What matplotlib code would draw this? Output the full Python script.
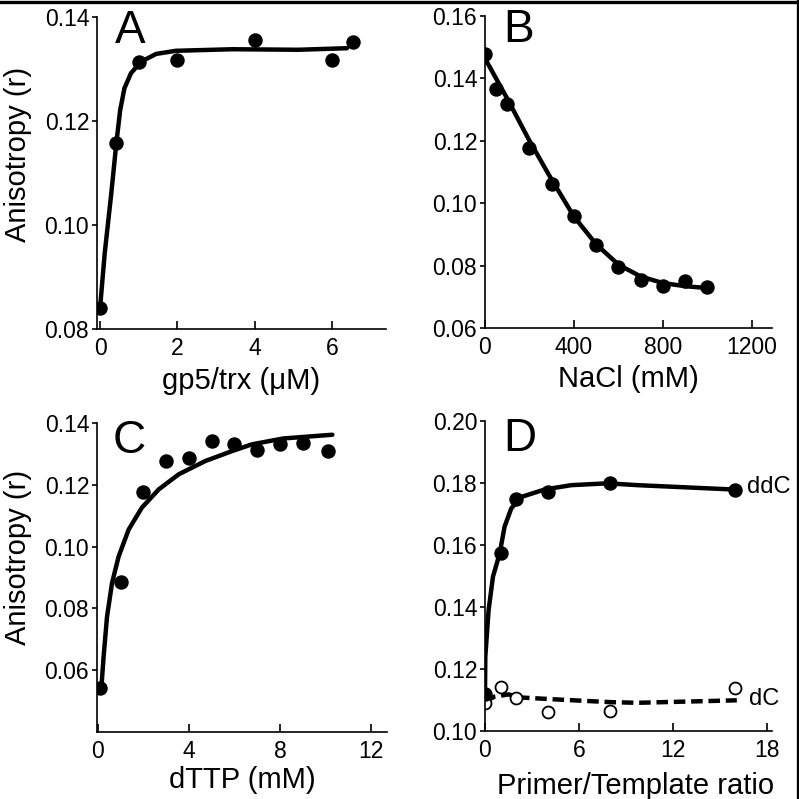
import numpy as np
import matplotlib
matplotlib.use("Agg")
import matplotlib.pyplot as plt

plt.rcParams['font.family'] = ['Liberation Sans', 'DejaVu Sans']

# ---- panel A: gp5/trx titration ----
a_x = [0.0, 0.4, 1.0, 2.0, 4.0, 6.0, 6.55]
a_y = [0.0841, 0.1158, 0.1314, 0.1317, 0.1356, 0.1317, 0.1351]
a_fit_x = [0.0, 0.12, 0.29, 0.42, 0.52, 0.63, 0.80, 1.06, 1.45, 1.96, 3.42, 5.14, 6.39]
a_fit_y = [0.0841, 0.0946, 0.1061, 0.1157, 0.1221, 0.1263, 0.1292, 0.1314, 0.1329, 0.1335, 0.1338, 0.1337, 0.1340]

# ---- panel B: NaCl ----
b_x = [0, 50, 100, 200, 300, 400, 500, 600, 700, 800, 900, 1000]
b_y = [0.1477, 0.1365, 0.1317, 0.1178, 0.1063, 0.0960, 0.0867, 0.0794, 0.0755, 0.0736, 0.0752, 0.0731]
b_fit_x = [0, 100, 200, 300, 400, 500, 600, 700, 800, 900, 1000]
b_fit_y = [0.1464, 0.1335, 0.1200, 0.1075, 0.0957, 0.0868, 0.0803, 0.0765, 0.0744, 0.0734, 0.0728]

# ---- panel C: dTTP ----
c_x = [0.1, 1.0, 2.0, 3.0, 4.0, 5.0, 6.0, 7.0, 8.0, 9.0, 10.1]
c_y = [0.0541, 0.0884, 0.1176, 0.1277, 0.1288, 0.1342, 0.1332, 0.1312, 0.1332, 0.1334, 0.1310]
c_fit_x = [0.15, 0.25, 0.40, 0.62, 0.91, 1.35, 1.93, 2.67, 3.55, 4.72, 5.89, 6.77, 8.15, 10.3]
c_fit_y = [0.0541, 0.0644, 0.0773, 0.0882, 0.0968, 0.1055, 0.1126, 0.1185, 0.1234, 0.1277, 0.1309, 0.1331, 0.1350, 0.1362]

# ---- panel D: primer/template ratio ----
d_x = [0, 1, 2, 4, 8, 16]
ddc_y = [0.1120, 0.1573, 0.1750, 0.1772, 0.1799, 0.1779]
dc_y = [0.1090, 0.1142, 0.1106, 0.1060, 0.1066, 0.1140]
ddc_fit_x = [0.0, 0.02, 0.23, 0.51, 0.94, 1.25, 1.68, 2.32, 3.81, 5.51, 7.85, 9.76, 15.9]
ddc_fit_y = [0.1117, 0.1240, 0.1390, 0.1498, 0.1573, 0.1659, 0.1718, 0.1755, 0.1779, 0.1793, 0.1799, 0.1793, 0.1779]
dc_fit_x = [0.0, 0.62, 1.5, 2.32, 4.87, 8.06, 9.76, 16.1]
dc_fit_y = [0.1095, 0.1111, 0.1118, 0.1108, 0.1101, 0.1093, 0.1091, 0.1099]

W = 799.0
fig = plt.figure(figsize=(7.99, 7.99), dpi=100)


def box(x0, x1, ytop, ybot):
    # pixel box -> figure fraction
    return [x0 / W, 1 - ybot / W, (x1 - x0) / W, (ybot - ytop) / W]


def style(ax):
    for s in ['top', 'right']:
        ax.spines[s].set_visible(False)
    for s in ['left', 'bottom']:
        ax.spines[s].set_linewidth(1.2)
    ax.tick_params(axis='y', direction='out', length=3.6, width=1.2, pad=2.0, labelsize=16.5)
    ax.tick_params(axis='x', direction='in', length=5.8, width=1.2, pad=5.8, labelsize=16.5)


LW = 3.2
MS = 9.4
LABEL_FS = 21

axA = fig.add_axes(box(97, 386, 17, 329))
axA.plot(a_fit_x, a_fit_y, color='black', lw=LW, solid_capstyle='round')
axA.plot(a_x, a_y, 'o', color='black', ms=MS)
axA.set_xlim(-0.08, 7.4)
axA.set_ylim(0.08, 0.14)
axA.set_xticks([0, 2, 4, 6])
axA.set_yticks([0.08, 0.10, 0.12, 0.14])
axA.set_yticklabels(['0.08', '0.10', '0.12', '0.14'])
axA.set_xlabel('gp5/trx (\u03bcM)', fontsize=LABEL_FS)
axA.xaxis.set_label_coords(0.5, -0.122)
axA.set_ylabel('Anisotropy (r)', fontsize=LABEL_FS)
axA.yaxis.set_label_coords(-0.225, 0.558)
style(axA)

axB = fig.add_axes(box(485, 772, 16, 328))
axB.plot(b_fit_x, b_fit_y, color='black', lw=LW, solid_capstyle='round')
axB.plot(b_x, b_y, 'o', color='black', ms=MS)
axB.set_xlim(0, 1290)
axB.set_ylim(0.06, 0.16)
axB.set_xticks([0, 400, 800, 1200])
axB.set_yticks([0.06, 0.08, 0.10, 0.12, 0.14, 0.16])
axB.set_yticklabels(['0.06', '0.08', '0.10', '0.12', '0.14', '0.16'])
axB.set_xlabel('NaCl (mM)', fontsize=LABEL_FS)
axB.xaxis.set_label_coords(0.5, -0.117)
style(axB)

axC = fig.add_axes(box(97, 387, 423, 732))
axC.plot(c_fit_x, c_fit_y, color='black', lw=LW, solid_capstyle='round')
axC.plot(c_x, c_y, 'o', color='black', ms=MS)
axC.set_xlim(-0.04, 12.7)
axC.set_ylim(0.04, 0.14)
axC.set_xticks([0, 4, 8, 12])
axC.set_yticks([0.06, 0.08, 0.10, 0.12, 0.14])
axC.set_yticklabels(['0.06', '0.08', '0.10', '0.12', '0.14'])
axC.set_xlabel('dTTP (mM)', fontsize=LABEL_FS)
axC.xaxis.set_label_coords(0.5, -0.110)
axC.set_ylabel('Anisotropy (r)', fontsize=LABEL_FS)
axC.yaxis.set_label_coords(-0.225, 0.566)
style(axC)

axD = fig.add_axes(box(485, 772, 421, 731))
axD.plot(dc_fit_x, dc_fit_y, color='black', lw=LW, linestyle=(0, (2.6, 1.3)))
axD.plot(d_x, dc_y, 'o', mfc='white', mec='black', mew=1.3, ms=8.6)
axD.plot(ddc_fit_x, ddc_fit_y, color='black', lw=LW, solid_capstyle='round')
axD.plot(d_x, ddc_y, 'o', color='black', ms=MS)
axD.set_xlim(0, 18.35)
axD.set_ylim(0.10, 0.20)
axD.set_xticks([0, 6, 12, 18])
axD.set_yticks([0.10, 0.12, 0.14, 0.16, 0.18, 0.20])
axD.set_yticklabels(['0.10', '0.12', '0.14', '0.16', '0.18', '0.20'])
axD.set_xlabel('Primer/Template ratio', fontsize=LABEL_FS)
axD.xaxis.set_label_coords(0.5245, -0.132)
axD.text(16.75, 0.1767, 'ddC', fontsize=17, va='baseline', ha='left')
axD.text(16.85, 0.1085, 'dC', fontsize=17, va='baseline', ha='left')
style(axD)

# panel letters
for letter, px, py in [('A', 115, 43), ('B', 503, 42), ('C', 113, 453), ('D', 503, 451)]:
    fig.text(px / W, 1 - py / W, letter, fontsize=33, ha='left', va='baseline')

# black frame on top and right edges
fig.add_artist(plt.Line2D([0, 1], [1 - 1.5 / W, 1 - 1.5 / W], transform=fig.transFigure, color='black', lw=2.4))
fig.add_artist(plt.Line2D([1 - 1.5 / W, 1 - 1.5 / W], [0, 1], transform=fig.transFigure, color='black', lw=2.4))

fig.savefig('out.png', dpi=100, facecolor='white')
